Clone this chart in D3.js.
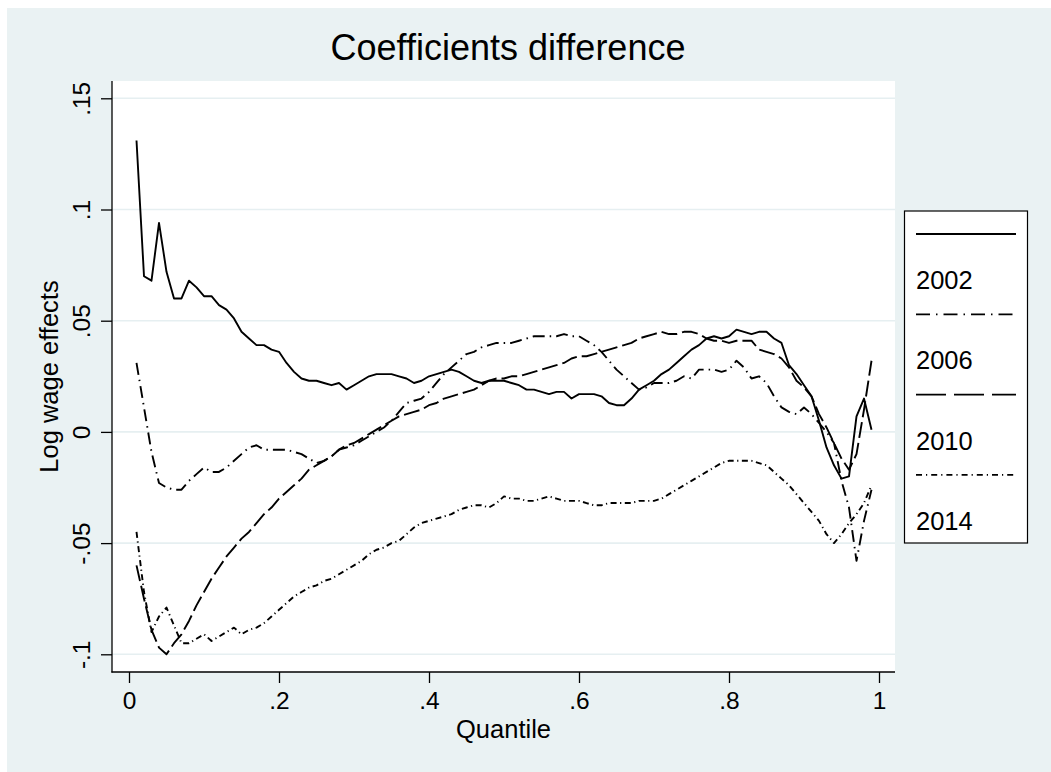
<!DOCTYPE html>
<html>
<head>
<meta charset="utf-8">
<script src="https://cdn.jsdelivr.net/npm/d3@7/dist/d3.min.js"></script>
<style>
  body { margin: 0; background: #fff; }
  text { font-family: "Liberation Sans", Arial, Helvetica, sans-serif; fill: #000; }
</style>
</head>
<body>
<svg id="chart" width="1051" height="772"></svg>
<script>
// Data
const quantiles = [
  0.01,0.02,0.03,0.04,0.05,0.06,0.07,0.08,0.09,0.10,
  0.11,0.12,0.13,0.14,0.15,0.16,0.17,0.18,0.19,0.20,
  0.21,0.22,0.23,0.24,0.25,0.26,0.27,0.28,0.29,0.30,
  0.31,0.32,0.33,0.34,0.35,0.36,0.37,0.38,0.39,0.40,
  0.41,0.42,0.43,0.44,0.45,0.46,0.47,0.48,0.49,0.50,
  0.51,0.52,0.53,0.54,0.55,0.56,0.57,0.58,0.59,0.60,
  0.61,0.62,0.63,0.64,0.65,0.66,0.67,0.68,0.69,0.70,
  0.71,0.72,0.73,0.74,0.75,0.76,0.77,0.78,0.79,0.80,
  0.81,0.82,0.83,0.84,0.85,0.86,0.87,0.88,0.89,0.90,
  0.91,0.92,0.93,0.94,0.95,0.96,0.97,0.98,0.99
];

const y2002 = [
  .131,.070,.068,.094,.072,.060,.060,.068,.065,.061,
  .061,.057,.055,.051,.045,.042,.039,.039,.037,.036,
  .031,.027,.024,.023,.023,.022,.021,.022,.019,.021,
  .023,.025,.026,.026,.026,.025,.024,.022,.023,.025,
  .026,.027,.028,.027,.025,.023,.022,.023,.023,.023,
  .022,.021,.019,.019,.018,.017,.018,.018,.015,.017,
  .017,.017,.016,.013,.012,.012,.015,.019,.021,.023,
  .026,.028,.031,.034,.037,.039,.042,.043,.042,.043,
  .046,.045,.044,.045,.045,.042,.040,.030,.026,.021,
  .016,.005,-.007,-.015,-.021,-.020,.007,.015,.001
];

const y2006 = [
  .031,.011,-.009,-.023,-.025,-.026,-.026,-.022,-.019,-.016,
  -.018,-.018,-.016,-.013,-.010,-.007,-.006,-.008,-.008,-.008,
  -.008,-.009,-.010,-.012,-.014,-.013,-.011,-.008,-.007,-.006,
  -.004,-.002,.000,.002,.005,.009,.013,.014,.015,.018,
  .022,.026,.029,.032,.035,.036,.038,.039,.040,.040,
  .040,.041,.042,.043,.043,.043,.043,.044,.043,.043,
  .041,.039,.036,.032,.028,.025,.022,.019,.020,.022,
  .022,.022,.023,.025,.024,.028,.028,.028,.027,.028,
  .032,.029,.024,.025,.022,.016,.011,.009,.008,.011,
  .008,.004,.000,-.005,-.022,-.034,-.058,-.040,-.026
];

const y2010 = [
  -.060,-.075,-.089,-.097,-.100,-.095,-.091,-.085,-.078,-.072,
  -.066,-.061,-.056,-.052,-.048,-.045,-.041,-.037,-.034,-.030,
  -.027,-.024,-.021,-.017,-.015,-.013,-.011,-.008,-.006,-.005,
  -.003,-.001,.001,.003,.005,.007,.008,.009,.010,.012,
  .013,.015,.016,.017,.018,.019,.021,.023,.024,.024,
  .025,.025,.026,.027,.028,.029,.030,.031,.033,.034,
  .034,.035,.036,.037,.038,.039,.040,.042,.043,.044,
  .045,.044,.044,.045,.045,.044,.042,.041,.041,.040,
  .041,.041,.041,.037,.036,.035,.033,.029,.023,.020,
  .016,.008,.002,-.005,-.012,-.017,-.010,.010,.032
];

const y2014 = [
  -.045,-.072,-.090,-.083,-.079,-.087,-.095,-.095,-.093,-.091,
  -.094,-.092,-.090,-.088,-.091,-.089,-.088,-.086,-.083,-.080,
  -.077,-.074,-.072,-.070,-.069,-.067,-.066,-.064,-.062,-.060,
  -.058,-.055,-.053,-.052,-.050,-.049,-.046,-.043,-.041,-.040,
  -.039,-.038,-.037,-.035,-.034,-.033,-.033,-.034,-.032,-.029,
  -.030,-.030,-.031,-.031,-.030,-.029,-.030,-.031,-.031,-.031,
  -.032,-.033,-.033,-.032,-.032,-.032,-.032,-.031,-.031,-.031,
  -.030,-.028,-.026,-.024,-.022,-.020,-.018,-.016,-.014,-.013,
  -.013,-.013,-.013,-.014,-.015,-.018,-.021,-.024,-.028,-.032,
  -.036,-.040,-.046,-.050,-.046,-.041,-.037,-.032,-.024
];

const seriesNames = ["2002", "2006", "2010", "2014"];
const seriesValues = [y2002, y2006, y2010, y2014];

const yTicks = [-0.1, -0.05, 0, 0.05, 0.1, 0.15];
const yTickLabels = ["-.1", "-.05", "0", ".05", ".1", ".15"];
const xTicks = [0, 0.2, 0.4, 0.6, 0.8, 1];
const xTickLabels = ["0", ".2", ".4", ".6", ".8", "1"];

// styles
const plotDash = ["none", "12,5,1.5,5", "16,5", "6,3.5,1.2,3.5"];
const legendDash = ["none", "14,6,1.5,6", "30,8", "6,4,1.2,4"];
const bgColor = "#eaf2f3";
const gridColor = "#e6eff1";

const svg = d3.select("#chart");
const plot = { left: 112, right: 895, top: 81, bottom: 672 };

// graph background
svg.append("rect")
  .attr("x", 7).attr("y", 8)
  .attr("width", 1051 - 7).attr("height", 772 - 8)
  .attr("fill", bgColor);

// plot region
svg.append("rect")
  .attr("x", plot.left).attr("y", plot.top)
  .attr("width", plot.right - plot.left).attr("height", plot.bottom - plot.top)
  .attr("fill", "#fff");

const x = d3.scaleLinear().domain([0, 1]).range([129, 879]);
const y = d3.scaleLinear().domain([-0.1, 0.15]).range([654.3, 98.3]);

// gridlines
svg.append("g").selectAll("line")
  .data(yTicks)
  .join("line")
  .attr("x1", plot.left).attr("x2", plot.right)
  .attr("y1", d => y(d)).attr("y2", d => y(d))
  .attr("stroke", gridColor)
  .attr("stroke-width", 1.6);

// y axis
const yAxis = svg.append("g")
  .attr("transform", `translate(${plot.left},0)`)
  .call(d3.axisLeft(y).tickValues(yTicks).tickSize(11).tickSizeOuter(0)
    .tickFormat((d, i) => yTickLabels[i]));
yAxis.select(".domain").remove();
yAxis.selectAll(".tick line").attr("stroke", "#000").attr("stroke-width", 1.3);
yAxis.selectAll(".tick text")
  .attr("x", null).attr("dy", null)
  .attr("transform", "translate(-22,0) rotate(-90)")
  .attr("text-anchor", "middle")
  .attr("font-size", 24.5)
  .attr("font-family", null);

// x axis
const xAxis = svg.append("g")
  .attr("transform", `translate(0,${plot.bottom})`)
  .call(d3.axisBottom(x).tickValues(xTicks).tickSize(11).tickSizeOuter(0)
    .tickFormat((d, i) => xTickLabels[i]));
xAxis.select(".domain").remove();
xAxis.selectAll(".tick line").attr("stroke", "#000").attr("stroke-width", 1.3);
xAxis.selectAll(".tick text")
  .attr("y", 37).attr("dy", null)
  .attr("font-size", 24.5)
  .attr("font-family", null);

// axis lines
svg.append("line")
  .attr("x1", plot.left).attr("x2", plot.left)
  .attr("y1", plot.top).attr("y2", plot.bottom + 0.6)
  .attr("stroke", "#000").attr("stroke-width", 1.3);
svg.append("line")
  .attr("x1", plot.left - 0.6).attr("x2", plot.right)
  .attr("y1", plot.bottom).attr("y2", plot.bottom)
  .attr("stroke", "#000").attr("stroke-width", 1.3);

// series
const line = d3.line()
  .x((d, i) => x(quantiles[i]))
  .y(d => y(d));

svg.append("g").selectAll("path")
  .data(seriesValues)
  .join("path")
  .attr("d", d => line(d))
  .attr("fill", "none")
  .attr("stroke", "#000")
  .attr("stroke-width", 1.9)
  .attr("stroke-linejoin", "round")
  .attr("stroke-dasharray", (d, i) => plotDash[i]);

// titles
svg.append("text")
  .attr("x", 508).attr("y", 60)
  .attr("text-anchor", "middle")
  .attr("font-size", 36)
  .text("Coefficients difference");

svg.append("text")
  .attr("transform", `translate(58,${(plot.top + plot.bottom) / 2}) rotate(-90)`)
  .attr("text-anchor", "middle")
  .attr("font-size", 25.5)
  .text("Log wage effects");

svg.append("text")
  .attr("x", (plot.left + plot.right) / 2).attr("y", 738)
  .attr("text-anchor", "middle")
  .attr("font-size", 25.5)
  .text("Quantile");

// legend
const legend = svg.append("g");
legend.append("rect")
  .attr("x", 904.5).attr("y", 211)
  .attr("width", 123).attr("height", 332)
  .attr("fill", "#fff")
  .attr("stroke", "#000")
  .attr("stroke-width", 1.2);

seriesNames.forEach((name, i) => {
  const ly = 234 + i * 80.3;
  legend.append("line")
    .attr("x1", 916).attr("x2", 1016)
    .attr("y1", ly).attr("y2", ly)
    .attr("stroke", "#000")
    .attr("stroke-width", 1.8)
    .attr("stroke-dasharray", legendDash[i]);
  legend.append("text")
    .attr("x", 916).attr("y", ly + 55)
    .attr("font-size", 25.5)
    .text(name);
});
</script>
</body>
</html>
